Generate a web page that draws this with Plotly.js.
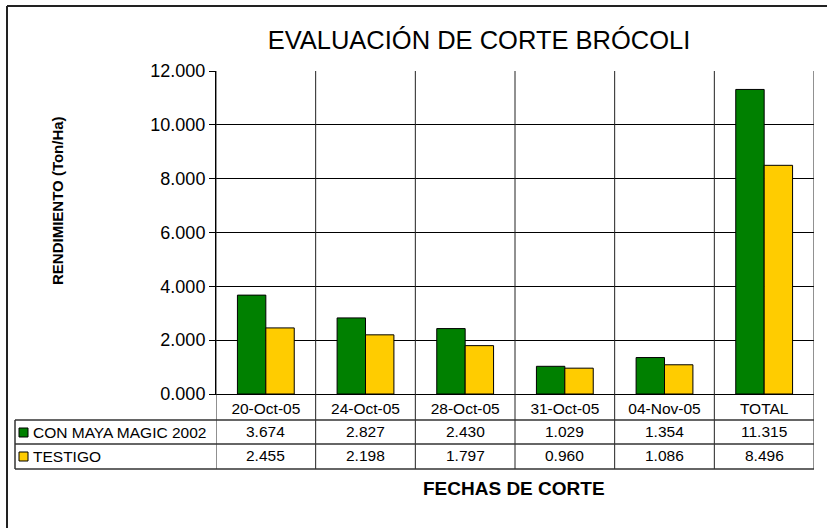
<!DOCTYPE html>
<html>
<head>
<meta charset="utf-8">
<script src="https://cdn.plot.ly/plotly-3.0.1.min.js"></script>
<style>html,body{margin:0;padding:0;background:#fff;}#chart{width:827px;height:528px;}</style>
</head>
<body>
<div id="chart"></div>
<script>
// ---- data ----
const categories = ['20-Oct-05', '24-Oct-05', '28-Oct-05', '31-Oct-05', '04-Nov-05', 'TOTAL'];
const conMaya = [3.674, 2.827, 2.430, 1.029, 1.354, 11.315];
const testigo = [2.455, 2.198, 1.797, 0.960, 1.086, 8.496];
const seriesNames = ['CON MAYA MAGIC 2002', 'TESTIGO'];
const seriesColors = ['#008000', '#FFCC00'];
const chartTitle = 'EVALUACIÓN DE CORTE BRÓCOLI';
const yTitle = 'RENDIMIENTO (Ton/Ha)';
const xTitle = 'FECHAS DE CORTE';

const FONT = 'Liberation Sans, Arial, sans-serif';
const W = 827, H = 528;
const M = {l: 216, r: 13, t: 71, b: 134};
const PW = W - M.l - M.r, PH = H - M.t - M.b;
// pixel -> paper helpers for the table layout
const px = x => (x - M.l) / PW;
const py = y => (H - M.b - y) / PH;

const seriesValues = [conMaya, testigo];
const traces = seriesValues.map((vals, k) => ({
  type: 'bar',
  name: seriesNames[k],
  x: categories,
  y: vals,
  marker: {color: seriesColors[k], line: {color: '#000', width: 1}},
  hoverinfo: 'x+y'
}));

const shapes = [];
const annotations = [];
const lineC = '#222';
// vertical lines at category boundaries (plot + table header/rows)
for (let i = 0; i <= categories.length; i++) {
  shapes.push({type: 'line', xref: 'x', yref: 'paper', x0: i - 0.5, x1: i - 0.5,
    y0: 1, y1: py(469), line: {color: lineC, width: 1}});
}
// table horizontal lines
[420, 444, 469].forEach(yy => shapes.push({type: 'line', xref: 'paper', yref: 'paper',
  x0: px(15), x1: 1, y0: py(yy), y1: py(yy), line: {color: '#333', width: 1.5}}));
// table left edge
shapes.push({type: 'line', xref: 'paper', yref: 'paper', x0: px(15), x1: px(15),
  y0: py(420), y1: py(469), line: {color: '#333', width: 1.5}});
// legend keys + row labels + values
const rowCenters = [431, 455.5];
const keyTops = [428, 452];
seriesValues.forEach((vals, k) => {
  shapes.push({type: 'rect', xref: 'paper', yref: 'paper',
    x0: px(19), x1: px(28), y0: py(keyTops[k]), y1: py(keyTops[k] + 9),
    fillcolor: seriesColors[k], line: {color: '#000', width: 1}});
  annotations.push({xref: 'paper', yref: 'paper', x: px(31), y: py(rowCenters[k] + 1),
    xanchor: 'left', yanchor: 'middle', showarrow: false, text: seriesNames[k],
    font: {family: FONT, size: 15.5, color: '#000'}});
  vals.forEach((v, i) => annotations.push({xref: 'x', yref: 'paper', x: categories[i],
    y: py(rowCenters[k]), xanchor: 'center', yanchor: 'middle', showarrow: false,
    text: v.toFixed(3), font: {family: FONT, size: 15.5, color: '#000'}}));
});
// outer chart border (top + left)
shapes.push({type: 'line', xref: 'paper', yref: 'paper', x0: px(7), x1: px(827),
  y0: py(6), y1: py(6), line: {color: '#222', width: 2}});
shapes.push({type: 'line', xref: 'paper', yref: 'paper', x0: px(7), x1: px(7),
  y0: py(6), y1: py(528), line: {color: '#222', width: 2}});
// axis titles
annotations.push({xref: 'paper', yref: 'paper', x: px(57), y: py(201), textangle: -90,
  xanchor: 'center', yanchor: 'middle', showarrow: false, text: '<b>' + yTitle + '</b>',
  font: {family: FONT, size: 15, color: '#000'}});
annotations.push({xref: 'paper', yref: 'paper', x: px(514), y: py(488),
  xanchor: 'center', yanchor: 'middle', showarrow: false, text: '<b>' + xTitle + '</b>',
  font: {family: FONT, size: 19, color: '#000'}});

const layout = {
  width: W, height: H,
  margin: M,
  paper_bgcolor: '#fff', plot_bgcolor: '#fff',
  showlegend: false,
  barmode: 'group', bargap: 0.43, bargroupgap: 0,
  title: {text: chartTitle, x: 479 / W, xref: 'container', xanchor: 'center',
    y: 1 - 40 / H, yref: 'container', yanchor: 'middle',
    font: {family: FONT, size: 25.5, color: '#000'}},
  xaxis: {type: 'category', showgrid: false, zeroline: false, showline: true,
    linecolor: '#000', linewidth: 1, ticks: '', ticklabelstandoff: 0,
    tickfont: {family: FONT, size: 15.5, color: '#000'}, range: [-0.5, categories.length - 0.5]},
  yaxis: {range: [0, 12], dtick: 2, tickformat: '.3f', showgrid: true, gridcolor: '#000',
    gridwidth: 1, zeroline: false, showline: true, linecolor: '#000', linewidth: 1,
    ticks: 'outside', ticklen: 6, tickcolor: '#000',
    tickfont: {family: FONT, size: 18, color: '#000'}},
  shapes: shapes,
  annotations: annotations
};

Plotly.newPlot('chart', traces, layout, {displayModeBar: false, staticPlot: true});
</script>
</body>
</html>
